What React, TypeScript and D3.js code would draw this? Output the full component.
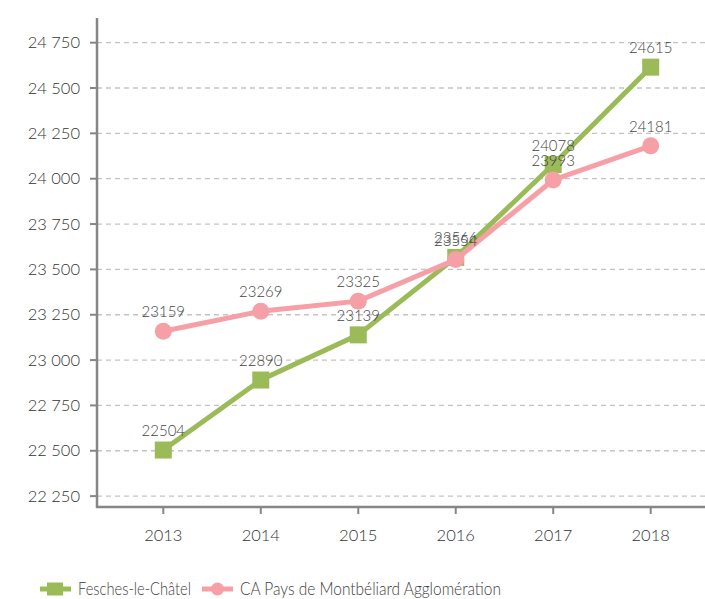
import React from "react";
import * as d3 from "d3";

const years = ["2013", "2014", "2015", "2016", "2017", "2018"];
const fesches = [22504, 22890, 23139, 23566, 24078, 24615];
const montbeliard = [23159, 23269, 23325, 23554, 23993, 24181];
const yTicks = [22250, 22500, 22750, 23000, 23250, 23500, 23750, 24000, 24250, 24500, 24750];
const seriesNames = ["Fesches-le-Châtel", "CA Pays de Montbéliard Agglomération"];

const GREEN = "#9BBB59";
const PINK = "#F79FA6";
const FONT = "Lato, 'Open Sans', sans-serif";

export default function App() {
  const W = 705, H = 599;
  const axisX = 97;
  const y = d3.scaleLinear().domain([22190, 24886]).range([507, 18]);
  const x = d3.scalePoint<string>().domain(years).range([163.3, 650.7]);
  const fmt = (v: number) => d3.format(",")(v).replace(",", " ");
  const line = d3.line<number>().x((_, i) => x(years[i])!).y((d) => y(d));
  const ly = 589;

  return (
    <svg width={W} height={H} style={{ position: "absolute", left: 0, top: 0, fontFamily: FONT, fontWeight: 300 }}>
      {yTicks.map((t) => (
        <g key={t}>
          <line x1={axisX} x2={W} y1={y(t)} y2={y(t)} stroke="#c3c3c3" strokeWidth={1.3} strokeDasharray="5,4" />
          <line x1={90} x2={axisX} y1={y(t)} y2={y(t)} stroke="#868686" strokeWidth={2} />
          <text x={80} y={y(t) + 5.5} textAnchor="end" fontSize={16.5} fill="#333">{fmt(t)}</text>
        </g>
      ))}
      <line x1={axisX} x2={axisX} y1={y.range()[1]} y2={508} stroke="#868686" strokeWidth={2.5} />
      <line x1={axisX - 1} x2={W} y1={507} y2={507} stroke="#868686" strokeWidth={2.5} />
      {years.map((yr) => (
        <g key={yr}>
          <line x1={x(yr)} x2={x(yr)} y1={507} y2={514} stroke="#868686" strokeWidth={2} />
          <text x={x(yr)} y={541} textAnchor="middle" fontSize={16.5} fill="#333">{yr}</text>
        </g>
      ))}
      <path d={line(fesches)!} fill="none" stroke={GREEN} strokeWidth={5} />
      {fesches.map((v, i) => (
        <rect key={i} x={x(years[i])! - 8.5} y={y(v) - 8.5} width={17} height={17} fill={GREEN} />
      ))}
      {fesches.map((v, i) => (
        <text key={i} x={x(years[i])} y={y(v) - 14} textAnchor="middle" fontSize={15} fill="#444">{v}</text>
      ))}
      <path d={line(montbeliard)!} fill="none" stroke={PINK} strokeWidth={5} />
      {montbeliard.map((v, i) => (
        <circle key={i} cx={x(years[i])} cy={y(v)} r={8.5} fill={PINK} />
      ))}
      {montbeliard.map((v, i) => (
        <text key={i} x={x(years[i])} y={y(v) - 14} textAnchor="middle" fontSize={15} fill="#444">{v}</text>
      ))}
      <g>
        <line x1={40} x2={71} y1={ly} y2={ly} stroke={GREEN} strokeWidth={5} />
        <rect x={47} y={ly - 6.5} width={16} height={13} fill={GREEN} />
        <text x={78} y={ly + 5.5} fontSize={17.5} fill="#404040" textLength={113} lengthAdjust="spacingAndGlyphs">{seriesNames[0]}</text>
        <line x1={202} x2={233} y1={ly} y2={ly} stroke={PINK} strokeWidth={5} />
        <circle cx={217.5} cy={ly} r={6.5} fill={PINK} />
        <text x={240} y={ly + 5.5} fontSize={17.5} fill="#404040" textLength={261} lengthAdjust="spacingAndGlyphs">{seriesNames[1]}</text>
      </g>
    </svg>
  );
}
